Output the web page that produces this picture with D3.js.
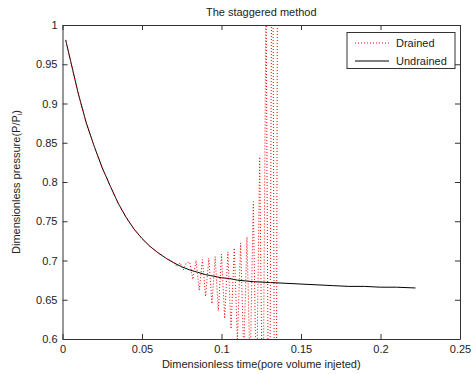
<!DOCTYPE html>
<html>
<head>
<meta charset="utf-8">
<script src="https://cdn.jsdelivr.net/npm/d3@7"></script>
<style>
  body { margin: 0; background: #fff; }
  text { font-family: "Liberation Sans", Arial, sans-serif; }
</style>
</head>
<body>
<div id="canvas"></div>
<script>
"use strict"

/* chart size */
let svgWidth = 472;
let svgHeight = 374;
let plotLeft = 62.5, plotRight = 460, plotTop = 25, plotBottom = 339;

/* data */
let titleText = "The staggered method";
let xLabel = "Dimensionless time(pore volume injeted)";
let xTicks = [0, 0.05, 0.1, 0.15, 0.2, 0.25];
let xTickLabels = ["0", "0.05", "0.1", "0.15", "0.2", "0.25"];
let yTicks = [0.6, 0.65, 0.7, 0.75, 0.8, 0.85, 0.9, 0.95, 1];
let yTickLabels = ["0.6", "0.65", "0.7", "0.75", "0.8", "0.85", "0.9", "0.95", "1"];
let seriesNames = ["Drained", "Undrained"];

let undrainedT = [0.002, 0.005, 0.01, 0.015, 0.02, 0.025, 0.03, 0.035, 0.04, 0.045,
    0.05, 0.055, 0.06, 0.065, 0.07, 0.075, 0.08, 0.085, 0.09, 0.095,
    0.1, 0.105, 0.11, 0.115, 0.12, 0.13, 0.14, 0.15, 0.16, 0.17,
    0.18, 0.19, 0.2, 0.21, 0.222];
let undrainedP = [0.981, 0.955, 0.912, 0.875, 0.845, 0.818, 0.795, 0.773, 0.755, 0.740,
    0.728, 0.718, 0.710, 0.703, 0.697, 0.692, 0.688, 0.685, 0.682, 0.680,
    0.678, 0.677, 0.675, 0.674, 0.673, 0.672, 0.671, 0.670, 0.669, 0.668,
    0.667, 0.667, 0.666, 0.666, 0.665];

let drainedT = [0.002, 0.005, 0.01, 0.015, 0.02, 0.025, 0.03, 0.035, 0.04, 0.045,
    0.05, 0.055, 0.06, 0.065, 0.068, 0.070, 0.072, 0.074, 0.076, 0.078,
    0.080, 0.082, 0.084, 0.086, 0.088, 0.090, 0.092, 0.094, 0.096, 0.098,
    0.100, 0.102, 0.104, 0.106, 0.108, 0.110, 0.112, 0.114, 0.116, 0.118,
    0.120, 0.122, 0.124, 0.126, 0.128, 0.130, 0.132, 0.134, 0.136];
let drainedP = [0.981, 0.955, 0.912, 0.875, 0.845, 0.818, 0.795, 0.773, 0.755, 0.740,
    0.728, 0.718, 0.710, 0.703, 0.700, 0.698, 0.692, 0.697, 0.688, 0.697,
    0.698, 0.676, 0.700, 0.662, 0.701, 0.654, 0.703, 0.645, 0.705, 0.636,
    0.708, 0.626, 0.711, 0.613, 0.716, 0.598, 0.722, 0.58, 0.730, 0.56,
    0.775, 0.52, 0.832, 0.45, 1.05, 0.3, 1.3, 0.0, 1.8];

/* canvas */
let svg = d3.select("#canvas")
    .append("svg")
    .attr("width", svgWidth)
    .attr("height", svgHeight);

let xScale = d3.scaleLinear()
    .domain([0, 0.25])
    .range([plotLeft, plotRight]);

let yScale = d3.scaleLinear()
    .domain([0.6, 1])
    .range([plotBottom, plotTop]);

svg.append("clipPath")
    .attr("id", "plotclip")
    .append("rect")
    .attr("x", plotLeft)
    .attr("y", plotTop)
    .attr("width", plotRight - plotLeft)
    .attr("height", plotBottom - plotTop);

/* axes, matlab style with ticks inside */
let axisColor = "#333";

let xAxis = svg.append("g")
    .attr("transform", "translate(0," + plotBottom + ")")
    .call(d3.axisBottom(xScale)
        .tickValues(xTicks)
        .tickFormat((d, i) => xTickLabels[i])
        .tickSizeInner(-5)
        .tickSizeOuter(0)
        .tickPadding(6));

let yAxis = svg.append("g")
    .attr("transform", "translate(" + plotLeft + ",0)")
    .call(d3.axisLeft(yScale)
        .tickValues(yTicks)
        .tickFormat((d, i) => yTickLabels[i])
        .tickSizeInner(-5)
        .tickSizeOuter(0)
        .tickPadding(5));

let topAxis = svg.append("g")
    .attr("transform", "translate(0," + plotTop + ")")
    .call(d3.axisTop(xScale)
        .tickValues(xTicks)
        .tickFormat("")
        .tickSizeInner(-5)
        .tickSizeOuter(0));

let rightAxis = svg.append("g")
    .attr("transform", "translate(" + plotRight + ",0)")
    .call(d3.axisRight(yScale)
        .tickValues(yTicks)
        .tickFormat("")
        .tickSizeInner(-5)
        .tickSizeOuter(0));

svg.selectAll(".domain").attr("stroke", axisColor);
svg.selectAll(".tick line").attr("stroke", axisColor);
svg.selectAll(".tick text")
    .attr("fill", "#222")
    .style("font-size", "11px")
    .style("font-family", "'Liberation Sans', Arial, sans-serif");

/* lines */
let undrained = undrainedT.map((t, i) => ({ t: t, p: undrainedP[i] }));
let drained = drainedT.map((t, i) => ({ t: t, p: drainedP[i] }));

let line = d3.line()
    .x(d => xScale(d.t))
    .y(d => yScale(d.p));

svg.append("path")
    .datum(undrained)
    .attr("clip-path", "url(#plotclip)")
    .attr("fill", "none")
    .attr("stroke", "#000")
    .attr("stroke-width", 1)
    .attr("d", line);

svg.append("path")
    .datum(drained)
    .attr("clip-path", "url(#plotclip)")
    .attr("fill", "none")
    .attr("stroke", "#ff0000")
    .attr("stroke-width", 1)
    .attr("stroke-dasharray", "1,2")
    .attr("d", line);

/* title and labels */
svg.append("text")
    .attr("x", (plotLeft + plotRight) / 2)
    .attr("y", 16)
    .attr("text-anchor", "middle")
    .style("font-size", "11px")
    .attr("fill", "#222")
    .text(titleText);

svg.append("text")
    .attr("x", (plotLeft + plotRight) / 2)
    .attr("y", 368)
    .attr("text-anchor", "middle")
    .style("font-size", "11px")
    .attr("fill", "#222")
    .text(xLabel);

let yLab = svg.append("text")
    .attr("transform", "translate(20," + (plotTop + plotBottom) / 2 + ") rotate(-90)")
    .attr("text-anchor", "middle")
    .style("font-size", "11px")
    .attr("fill", "#222");
yLab.append("tspan").text("Dimensionless pressure(P/P");
yLab.append("tspan").attr("dy", 2).style("font-size", "7px").text("i");
yLab.append("tspan").attr("dy", -2).text(")");

/* legend */
let legend = svg.append("g");
legend.append("rect")
    .attr("x", 347)
    .attr("y", 32.5)
    .attr("width", 108)
    .attr("height", 36)
    .attr("fill", "#fff")
    .attr("stroke", axisColor);

let legendStyles = [
    { stroke: "#ff0000", dash: "1,2" },
    { stroke: "#000", dash: null }
];

seriesNames.forEach(function (name, i) {
    let y = 43 + i * 18;
    legend.append("line")
        .attr("x1", 355)
        .attr("x2", 389)
        .attr("y1", y)
        .attr("y2", y)
        .attr("stroke", legendStyles[i].stroke)
        .attr("stroke-dasharray", legendStyles[i].dash);
    legend.append("text")
        .attr("x", 396)
        .attr("y", y + 4)
        .style("font-size", "11px")
        .attr("fill", "#222")
        .text(name);
});
</script>
</body>
</html>
